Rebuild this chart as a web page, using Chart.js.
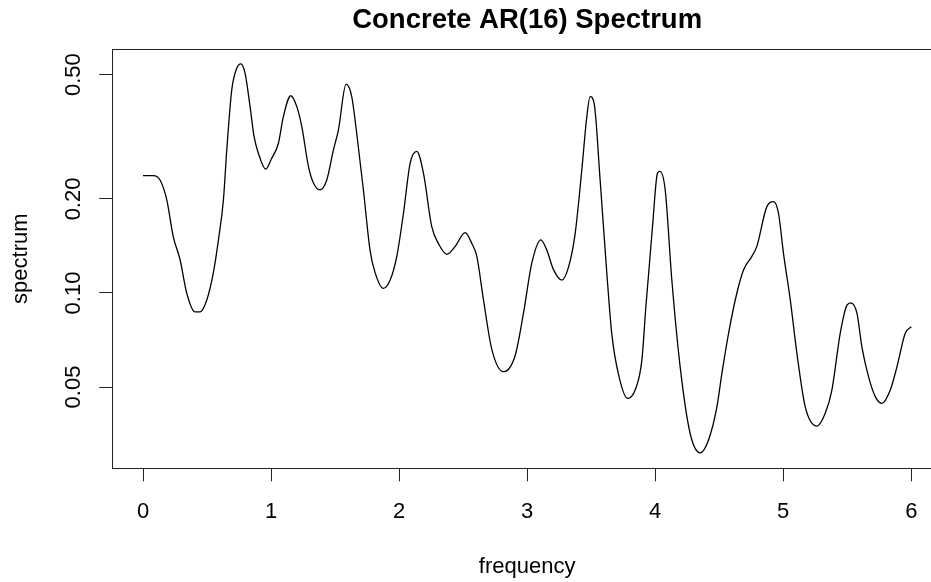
<!DOCTYPE html>
<html>
<head>
<meta charset="utf-8">
<title>Concrete AR(16) Spectrum</title>
<script src="https://cdn.jsdelivr.net/npm/chart.js@4"></script>
<style>
  html, body { margin: 0; padding: 0; background: #fff; overflow: hidden; }
  canvas { display: block; }
</style>
</head>
<body>
<canvas id="specChart" width="942" height="582"></canvas>
<script>
// frequency (cycles per year) and AR(16) spectral density
const freq = [
  0.00, 0.08, 0.133, 0.185, 0.237, 0.289, 0.341, 0.406, 0.445, 0.498,
  0.549, 0.589, 0.628, 0.654, 0.693, 0.732, 0.763, 0.797, 0.836, 0.867,
  0.901, 0.958, 1.005, 1.057, 1.096, 1.154, 1.201, 1.240, 1.292, 1.331,
  1.383, 1.435, 1.487, 1.526, 1.586, 1.630, 1.669, 1.721, 1.773, 1.813,
  1.877, 1.930, 1.982, 2.034, 2.086, 2.138, 2.190, 2.255, 2.307, 2.373,
  2.438, 2.516, 2.568, 2.607, 2.659, 2.724, 2.815, 2.906, 2.971, 3.037,
  3.107, 3.154, 3.205, 3.271, 3.323, 3.375, 3.427, 3.466, 3.492, 3.523,
  3.570, 3.622, 3.661, 3.713, 3.784, 3.844, 3.896, 3.927, 3.979, 4.018,
  4.037, 4.078, 4.130, 4.195, 4.273, 4.352, 4.416, 4.482, 4.521, 4.573,
  4.638, 4.690, 4.755, 4.794, 4.872, 4.924, 4.963, 5.002, 5.055, 5.107,
  5.172, 5.263, 5.328, 5.380, 5.445, 5.498, 5.529, 5.576, 5.615, 5.666,
  5.719, 5.771, 5.836, 5.888, 5.953, 6.000
];
const spec = [
  0.2375, 0.2375, 0.230, 0.199, 0.151, 0.128, 0.100, 0.087, 0.087, 0.095,
  0.116, 0.148, 0.199, 0.287, 0.447, 0.524, 0.541, 0.505, 0.395, 0.317,
  0.280, 0.249, 0.270, 0.301, 0.367, 0.428, 0.395, 0.341, 0.254, 0.225,
  0.214, 0.230, 0.287, 0.333, 0.466, 0.425, 0.324, 0.214, 0.137, 0.116,
  0.1035, 0.110, 0.131, 0.180, 0.260, 0.284, 0.242, 0.163, 0.144, 0.133,
  0.141, 0.156, 0.144, 0.131, 0.095, 0.066, 0.056, 0.063, 0.086, 0.125,
  0.148, 0.137, 0.119, 0.110, 0.121, 0.155, 0.248, 0.367, 0.425, 0.405,
  0.230, 0.116, 0.074, 0.055, 0.046, 0.049, 0.061, 0.090, 0.163, 0.242,
  0.245, 0.214, 0.110, 0.058, 0.0355, 0.0308, 0.0338, 0.0432, 0.0553, 0.0743,
  0.100, 0.1185, 0.131, 0.141, 0.189, 0.196, 0.180, 0.134, 0.095, 0.064,
  0.0432, 0.0375, 0.0412, 0.0489, 0.0743, 0.0915, 0.093, 0.086, 0.067, 0.054,
  0.0466, 0.0443, 0.0489, 0.058, 0.0743, 0.078
];
const xTicks = [0, 1, 2, 3, 4, 5, 6];
const yTicks = [0.05, 0.1, 0.2, 0.5];

Chart.defaults.font.family = '"Liberation Sans", Arial, sans-serif';
Chart.defaults.font.size = 22;
Chart.defaults.color = '#000';

// box around the plotting region, like base graphics
const frame = {
  id: 'frame',
  afterDraw(chart) {
    const a = chart.chartArea, ctx = chart.ctx;
    ctx.save();
    ctx.strokeStyle = '#222';
    ctx.lineWidth = 1;
    ctx.strokeRect(Math.round(a.left) + 0.5, Math.round(a.top) + 0.5,
      Math.round(a.right - a.left), Math.round(a.bottom - a.top));
    ctx.restore();
  }
};

var ctx = document.getElementById('specChart');
var specChart = new Chart(ctx, {
  type: 'line',
  data: {
    datasets: [{
      label: 'spectrum',
      data: freq.map((f, i) => ({ x: f, y: spec[i] })),
      borderColor: '#000',
      borderWidth: 1.3,
      pointRadius: 0,
      fill: false,
      cubicInterpolationMode: 'monotone'
    }]
  },
  options: {
    responsive: false,
    animation: false,
    devicePixelRatio: 1,
    layout: { padding: 0 },
    plugins: {
      legend: { display: false },
      tooltip: { enabled: false },
      title: {
        display: true,
        text: 'Concrete AR(16) Spectrum',
        fullSize: false,
        color: '#000',
        font: { size: 27.5, weight: 'bold' },
        padding: { top: 4, bottom: 12 }
      }
    },
    scales: {
      x: {
        type: 'linear',
        min: -0.24,
        max: 6.24,
        afterBuildTicks: s => { s.ticks = xTicks.map(v => ({ value: v })); },
        afterFit: s => { s.height = 582 - 468.3; },
        ticks: { padding: 17, maxRotation: 0, callback: v => String(v) },
        grid: { display: true, drawOnChartArea: false, drawTicks: true, tickLength: 13, color: '#222', lineWidth: 1 },
        border: { display: true, color: '#222', width: 1 },
        title: { display: true, text: 'frequency', padding: { top: 0, bottom: 2 } }
      },
      y: {
        type: 'logarithmic',
        min: 0.02747,
        max: 0.604,
        afterBuildTicks: s => { s.ticks = yTicks.map(v => ({ value: v })); },
        afterFit: s => { s.width = 112.3; },
        ticks: { padding: 4, minRotation: 90, maxRotation: 90, crossAlign: 'center', callback: v => Number(v).toFixed(2) },
        grid: { display: true, drawOnChartArea: false, drawTicks: true, tickLength: 13, color: '#222', lineWidth: 1 },
        border: { display: true, color: '#222', width: 1 },
        title: { display: true, text: 'spectrum', padding: { top: 8, bottom: 0 } }
      }
    }
  },
  plugins: [frame]
});
</script>
</body>
</html>
